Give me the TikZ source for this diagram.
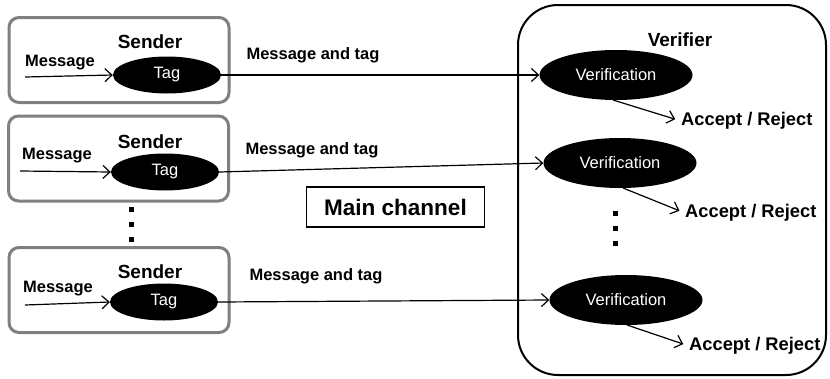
\documentclass[tikz,border=0pt]{standalone}
\usepackage{fontspec}
\setmainfont{Liberation Sans}
\usetikzlibrary{shapes.geometric,arrows.meta}
\definecolor{boxgray}{RGB}{128,128,128}
\begin{document}
\begin{tikzpicture}[x=1pt,y=-1pt,
  senderbox/.style={draw=boxgray,line width=3pt,rounded corners=10pt,minimum width=220pt,minimum height=85pt,inner sep=0pt},
  tagell/.style={ellipse,fill=black,text=white,inner sep=0pt,minimum width=108pt,minimum height=37pt,font=\fontsize{16.5}{18}\selectfont},
  verell/.style={ellipse,fill=black,text=white,inner sep=0pt,minimum width=153pt,minimum height=50pt,font=\fontsize{16.5}{18}\selectfont},
  lbl/.style={font=\bfseries\fontsize{16.5}{18}\selectfont,inner sep=0pt},
  title/.style={font=\bfseries\fontsize{19}{21}\selectfont,inner sep=0pt},
  result/.style={font=\bfseries\fontsize{18.3}{20}\selectfont,inner sep=0pt,anchor=west},
  arr/.style={line width=1.2pt,-{Straight Barb[length=7pt,width=13pt,line width=1.2pt]}},
  dot/.style={fill=black,minimum size=5pt,inner sep=0pt}
]
\useasboundingbox (0,0) rectangle (830,378);
% Sender boxes
\node[senderbox] (s1) at (119,60) {};
\node[senderbox] (s2) at (118.5,158.5) {};
\node[senderbox] (s3) at (119,290) {};
\node[title] (st1) at (150,42) {Sender};
\node[title] (st2) at (150,142) {Sender};
\node[title] (st3) at (150,272) {Sender};
\node[tagell] (t1) at (167,75) {Tag};
\node[tagell] (t2) at (165,172) {Tag};
\node[tagell] (t3) at (164,302) {Tag};
\coordinate (m1) at (25,77);
\coordinate (m2) at (20,171);
\coordinate (m3) at (25,305);
\node[lbl] (ml1) at (60,63) {Message};
\node[lbl] (ml2) at (57,156) {Message};
\node[lbl] (ml3) at (58,289) {Message};
\draw[arr] (m1) -- (t1.west);
\draw[arr] (m2) -- (t2.west);
\draw[arr] (m3) -- (t3.west);
% dots
\node[dot] (d1) at (131,209) {};
\node[dot] (d2) at (131,224) {};
\node[dot] (d3) at (131,239) {};
% Verifier
\draw[line width=2pt,rounded corners=40pt] (518,5) rectangle (826,375);
\node[title] (vt) at (680,40) {Verifier};
\node[verell] (v1) at (616,75) {Verification};
\node[verell] (v2) at (620,163) {Verification};
\node[verell] (v3) at (626,300) {Verification};
% channel
\draw[arr] (t1.east) -- (v1.west);
\draw[arr] (t2.east) -- (v2.west);
\draw[arr] (t3.east) -- (v3.west);
\node[lbl] (c1) at (313,55) {Message and tag};
\node[lbl] (c2) at (312,150) {Message and tag};
\node[lbl] (c3) at (316,276) {Message and tag};
\node[draw,line width=1.5pt,minimum width=178pt,minimum height=40pt,inner sep=0pt,font=\bfseries\fontsize{22.5}{24}\selectfont] (mc) at (395.5,207) {Main channel};
% accept/reject
\node[result] (a1) at (681,121) {Accept / Reject};
\node[result] (a2) at (685,213) {Accept / Reject};
\node[result] (a3) at (689,346) {Accept / Reject};
\draw[arr,shorten >=6pt] (613,100) -- (a1.west);
\draw[arr,shorten >=6pt] (623,188) -- (a2.west);
\draw[arr,shorten >=6pt] (627,325) -- (a3.west);
\node[dot] (e1) at (615,213) {};
\node[dot] (e2) at (615,228) {};
\node[dot] (e3) at (615,243) {};
\end{tikzpicture}
\end{document}
